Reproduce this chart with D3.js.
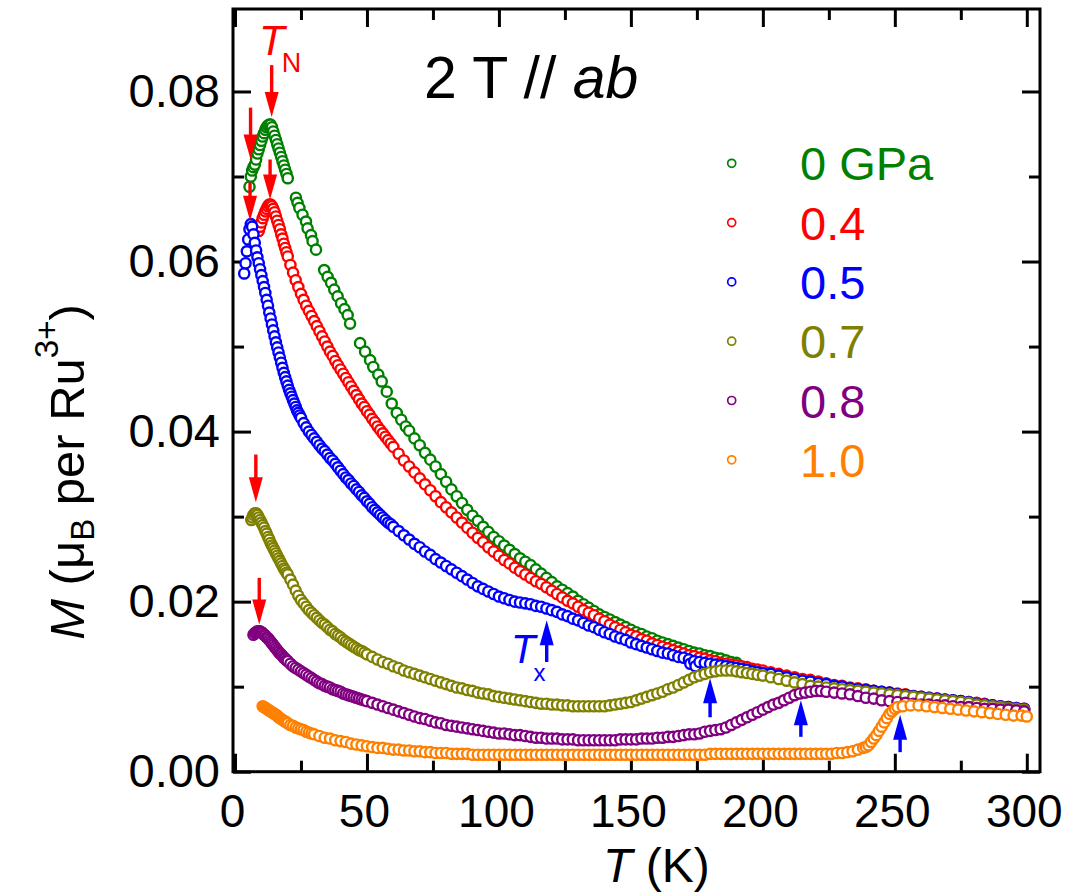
<!DOCTYPE html>
<html><head><meta charset="utf-8">
<script src="https://cdn.jsdelivr.net/npm/d3@7"></script>
<style>
body{margin:0;background:#fff}
svg{display:block}
text{font-family:"Liberation Sans",Arial,Helvetica,sans-serif}
</style>
</head><body>
<svg id="chart" width="1065" height="894"></svg>
<script>
// ---------------- data ----------------
const seriesLabels = ["0 GPa", "0.4", "0.5", "0.7", "0.8", "1.0"];
const seriesColors = ["#008000", "#ff0000", "#0000ff", "#808000", "#800080", "#ff8000"];

// [T (K), M (muB per Ru3+)]
const m00 = [[5.5,.0688],[6,.0700],[6.5,.0707],[7,.0711],[7.5,.0714],[8,.0720],[8.5,.0727],[9,.0732],[9.5,.0737],[10,.0742],[10.5,.0747],[11,.0751],[11.5,.0755],[12,.0758],[12.5,.0760],[13,.0761],[13.5,.0761],[14,.0758],[14.5,.0753],[15,.0748],[15.5,.0743],[16,.0738],[16.5,.0733],[17,.0728],[17.5,.0723],[18,.0718],[18.5,.0713],[19,.0708],[19.5,.0703],[20,.0698],
[23.1,.0675],[23.7,.0669],[24.4,.0663],[25.6,.0655],[26.9,.0647],[27.5,.0639],[28.8,.0631],[29.4,.0624],[30.7,.0614],
[33.8,.0590],[35.1,.0582],[36.4,.0575],[37.6,.0567],[38.9,.0559],[40.2,.0551],[41.5,.0544],[42.7,.0537],[43.6,.0527],
[47.4,.0504],[49.3,.0494],[51.2,.0484],[52.4,.0476],[54.3,.0467],[55.6,.0459],[57.5,.0447],
[59.4,.0433],[61.3,.0422],[63,.0414],[64.7,.0406],[66,.0401],[68,.0392],[70,.0384],[72,.0375],[74,.0367],[76,.0359],[78,.0350],[80,.0341],[82,.0332],[84,.0324],[86,.0316],[88,.0308],[90,.0301],[92,.0295],[94,.0288],[96,.0282],[98,.0276],[100,.0271],[102,.0266],[104,.0261],[106,.0256],[108,.0251],[110,.0247],[112,.0243],[114,.0238],[116,.0233],[118,.0228],[120,.0223],[122,.0218],[124,.0214],[126,.0210],[128,.0206],[130,.0201],[132,.0197],[134,.0193],[136,.0189],[138,.0185],[140,.0182],[142,.0179],[144,.0176],[146,.0173],[148,.0170],[150,.0167],[152,.0164],[154,.0162],[156,.0159],[158,.0157],[160,.0154],[162,.0152],[164,.0150],[166,.0148],[168,.0146],[170,.0144],[172,.0142],[174,.0140],[176,.0139],[178,.0137],[180,.0136],[182,.0134],[184,.0133],[186,.0131],[188,.0129],[190,.0128]];

const m04 = [[9,.0636],[9.5,.0641],[10,.0646],[10.5,.0651],[11,.0655],[11.5,.0659],[12,.0662],[12.5,.0665],[13,.0667],[13.5,.0667],[14,.0665],[14.5,.0662],[15,.0658],[15.5,.0653],[16,.0648],[16.5,.0643],[17,.0638],[17.5,.0632],[18,.0627],[18.5,.0621],[19,.0616],[19.5,.0611],[20,.0606],[21,.0596],[22,.0587],[23,.0578],[24,.0570],[25,.0562],[26,.0555],[27,.0548],[28,.0542],[29,.0536],[30,.0530],[31,.0524],[32,.0518],[33,.0512],[34,.0506],[35,.0500],[36,.0494],[37,.0489],[38,.0483],[39,.0478],[40,.0473],[41,.0468],[42,.0463],[43,.0458],[44,.0453],[45,.0448],[46,.0443],[47,.0438],[48,.0433],[49,.0429],[50,.0424],[51,.0420],[52,.0415],[53,.0411],[54,.0406],[55,.0402],[56,.0398],[57,.0394],[58,.0390],[59,.0386],[60,.0382],[62,.0374],[64,.0366],[66,.0359],[68,.0352],[70,.0345],[72,.0338],[74,.0331],[76,.0324],[78,.0317],[80,.0311],[82,.0305],[84,.0299],[86,.0293],[88,.0287],[90,.0281],[92,.0275],[94,.0270],[96,.0264],[98,.0259],[100,.0254],[102,.0249],[104,.0245],[106,.0240],[108,.0236],[110,.0232],[112,.0228],[114,.0224],[116,.0221],[118,.0217],[120,.0213],[122,.0209],[124,.0205],[126,.0201],[128,.0198],[130,.0194],[132,.0190],[134,.0187],[136,.0184],[138,.0180],[140,.0177],[142,.0173],[144,.0170],[146,.0167],[148,.0164],[150,.0161],[152,.0159],[154,.0156],[156,.0154],[158,.0151],[160,.0149],[162,.0147],[164,.0145],[166,.0143],[168,.0141],[170,.0139],[172,.0137],[174,.0136],[176,.0134],[178,.0133],[180,.0131],[182,.0130],[184,.0128],[186,.0127],[188,.0126],[190,.0125],[192,.0124],[194,.0123],[196,.0121],[198,.0120],[200,.0119],[203,.0117],[206,.0115],[209,.0113],[212,.0111],[215,.0109],[218,.0108],[221,.0106],[224,.0104],[227,.0102],[230,.0101],[233,.0099],[236,.0098],[239,.0097],[242,.0095],[245,.0094],[248,.0093],[251,.0092],[254,.0091],[257,.0089],[260,.0088],[263,.0087],[266,.0086],[269,.0085],[272,.0084],[275,.0083],[278,.0082],[281,.0081],[284,.0080],[287,.0078],[290,.0077],[293,.0076],[296,.0075],[299,.0074]];

const m05 = [[3.5,.0586],[4,.0598],[4.5,.0612],[5,.0626],[5.5,.0638],[6,.0644],[6.5,.0641],[7,.0632],[7.5,.0622],[8,.0613],[8.5,.0605],[9,.0598],[9.5,.0591],[10,.0584],[10.5,.0577],[11,.0570],[11.5,.0563],[12,.0555],[12.5,.0548],[13,.0540],[13.5,.0533],[14,.0526],[14.5,.0519],[15,.0512],[15.5,.0505],[16,.0499],[16.5,.0493],[17,.0487],[17.5,.0481],[18,.0475],[18.5,.0469],[19,.0464],[19.5,.0459],[20,.0454],[20.5,.0449],[21,.0445],[21.5,.0441],[22,.0437],[22.5,.0433],[23,.0429],[23.5,.0425],[24,.0422],[24.5,.0419],[25,.0416],[26,.0410],[27,.0405],[28,.0400],[29,.0396],[30,.0392],[31,.0388],[32,.0384],[33,.0380],[34,.0377],[35,.0373],[36,.0369],[37,.0366],[38,.0362],[39,.0358],[40,.0354],[41,.0350],[42,.0346],[43,.0343],[44,.0339],[45,.0336],[46,.0332],[47,.0329],[48,.0325],[49,.0322],[50,.0318],[51,.0315],[52,.0311],[53,.0308],[54,.0305],[55,.0302],[56,.0299],[57,.0296],[58,.0293],[59,.0291],[60,.0288],[62,.0283],[64,.0278],[66,.0273],[68,.0268],[70,.0264],[72,.0259],[74,.0255],[76,.0250],[78,.0246],[80,.0242],[82,.0238],[84,.0234],[86,.0230],[88,.0226],[90,.0222],[92,.0218],[94,.0215],[96,.0212],[98,.0209],[100,.0206],[102,.0204],[104,.0202],[106,.0200],[108,.0199],[110,.0198],[112,.0197],[114,.0195],[116,.0194],[118,.0192],[120,.0190],[122,.0188],[124,.0185],[126,.0183],[128,.0180],[130,.0178],[132,.0175],[134,.0172],[136,.0170],[138,.0167],[140,.0164],[142,.0162],[144,.0159],[146,.0157],[148,.0155],[150,.0152],[152,.0150],[154,.0148],[156,.0146],[158,.0144],[160,.0142],[162,.0140],[164,.0139],[166,.0137],[168,.0135],[170,.0134],[172,.0132],[172.5,.0127],[174,.0130],[174.5,.0124],[176,.0129],[178,.0128],[180,.0127],[182,.0126],[184,.0125],[186,.0124],[188,.0123],[190,.0122],[192,.0121],[194,.0120],[196,.0118],[198,.0117],[200,.0116],[203,.0115],[206,.0113],[209,.0111],[212,.0109],[215,.0107],[218,.0106],[221,.0104],[224,.0103],[227,.0101],[230,.0100],[233,.0098],[236,.0097],[239,.0096],[242,.0095],[245,.0094],[248,.0093],[251,.0091],[254,.0090],[257,.0089],[260,.0088],[263,.0087],[266,.0086],[269,.0085],[272,.0084],[275,.0083],[278,.0082],[281,.0080],[284,.0079],[287,.0078],[290,.0077],[293,.0076],[296,.0075],[299,.0074]];

const m07 = [[6.2,.0296],[6.6,.0299],[7,.0302],[7.5,.0304],[8,.0304],[8.5,.0302],[9,.0299],[9.5,.0296],[10,.0293],[10.5,.0290],[11,.0287],[11.5,.0283],[12,.0280],[12.5,.0276],[13,.0273],[13.5,.0269],[14,.0266],[14.5,.0263],[15,.0260],[15.5,.0257],[16,.0254],[16.5,.0251],[17,.0248],[17.5,.0245],[18,.0242],[18.5,.0239],[19,.0237],[19.5,.0234],[20,.0232],[21,.0226],[22,.0220],[23,.0213],[24,.0207],[25,.0202],[26,.0198],[27,.0194],[28,.0190],[29,.0187],[30,.0184],[31,.0181],[32,.0178],[33,.0175],[34,.0173],[35,.0170],[36,.0167],[37,.0165],[38,.0162],[39,.0160],[40,.0158],[41,.0155],[42,.0153],[43,.0151],[44,.0149],[45,.0147],[46,.0145],[47,.0143],[48,.0142],[49,.0140],[50,.0138],[52,.0135],[54,.0132],[56,.0129],[58,.0127],[60,.0124],[62,.0122],[64,.0119],[66,.0117],[68,.0115],[70,.0113],[72,.0111],[74,.0109],[76,.0107],[78,.0105],[80,.0103],[82,.0101],[84,.0099],[86,.0098],[88,.0096],[90,.0095],[92,.0093],[94,.0092],[96,.0091],[98,.0089],[100,.0088],[102,.0087],[104,.0086],[106,.0085],[108,.0084],[110,.0083],[112,.0082],[114,.0081],[116,.0080],[118,.0080],[120,.0079],[122,.0079],[124,.0078],[126,.0078],[128,.0077],[130,.0077],[132,.0077],[134,.0077],[136,.0077],[138,.0077],[140,.0077],[142,.0078],[144,.0079],[146,.0080],[148,.0081],[150,.0082],[152,.0084],[154,.0086],[156,.0088],[158,.0090],[160,.0092],[162,.0094],[164,.0097],[166,.0099],[168,.0102],[170,.0105],[172,.0108],[174,.0111],[176,.0113],[178,.0115],[180,.0117],[182,.0118],[184,.0119],[186,.0119],[188,.0119],[190,.0118],[192,.0117],[194,.0116],[196,.0115],[198,.0114],[200,.0113],[203,.0111],[206,.0109],[209,.0107],[212,.0105],[215,.0103],[218,.0101],[221,.0100],[224,.0099],[227,.0098],[230,.0097],[233,.0096],[236,.0095],[239,.0094],[242,.0093],[245,.0092],[248,.0091],[251,.0090],[254,.0089],[257,.0088],[260,.0087],[263,.0086],[266,.0085],[269,.0084],[272,.0083],[275,.0082],[278,.0081],[281,.0079],[284,.0078],[287,.0077],[290,.0076],[293,.0075],[296,.0074],[299,.0073]];

const m08 = [[7,.0161],[7.5,.0163],[8,.0164],[8.5,.0165],[9,.0165],[9.5,.0165],[10,.0164],[10.5,.0163],[11,.0161],[11.5,.0160],[12,.0158],[12.5,.0157],[13,.0155],[13.5,.0153],[14,.0151],[14.5,.0149],[15,.0147],[15.5,.0145],[16,.0143],[16.5,.0141],[17,.0139],[17.5,.0138],[18,.0136],[18.5,.0134],[19,.0133],[19.5,.0131],[20,.0130],[21,.0127],[22,.0124],[23,.0122],[24,.0120],[25,.0118],[26,.0116],[27,.0114],[28,.0112],[29,.0110],[30,.0108],[31,.0106],[32,.0104],[33,.0103],[34,.0101],[35,.0100],[36,.0099],[37,.0097],[38,.0096],[39,.0095],[40,.0094],[41,.0092],[42,.0091],[43,.0090],[44,.0089],[45,.0088],[46,.0087],[47,.0086],[48,.0085],[49,.0084],[50,.0083],[52,.0081],[54,.0079],[56,.0077],[58,.0075],[60,.0073],[62,.0071],[64,.0069],[66,.0067],[68,.0065],[70,.0063],[72,.0062],[74,.0060],[76,.0058],[78,.0057],[80,.0055],[82,.0054],[84,.0053],[86,.0052],[88,.0051],[90,.0050],[92,.0049],[94,.0048],[96,.0047],[98,.0046],[100,.0045],[102,.0045],[104,.0044],[106,.0043],[108,.0043],[110,.0042],[112,.0041],[114,.0040],[116,.0040],[118,.0039],[120,.0039],[122,.0039],[124,.0038],[126,.0038],[128,.0038],[130,.0037],[132,.0037],[134,.0037],[136,.0037],[138,.0037],[140,.0037],[142,.0037],[144,.0037],[146,.0038],[148,.0038],[150,.0038],[152,.0038],[154,.0039],[156,.0039],[158,.0039],[160,.0040],[162,.0040],[164,.0041],[166,.0041],[168,.0042],[170,.0043],[172,.0044],[174,.0044],[176,.0045],[178,.0047],[180,.0048],[182,.0049],[184,.0050],[186,.0052],[188,.0055],[190,.0058],[192,.0061],[194,.0064],[196,.0067],[198,.0070],[200,.0073],[202,.0076],[204,.0079],[206,.0081],[208,.0084],[210,.0087],[212,.0090],[214,.0092],[216,.0093],[218,.0094],[220,.0095],[222,.0095],[224,.0094],[227,.0093],[230,.0092],[233,.0091],[236,.0089],[239,.0087],[242,.0086],[245,.0084],[248,.0083],[251,.0082],[254,.0081],[257,.0080],[260,.0079],[263,.0079],[266,.0078],[269,.0078],[272,.0077],[275,.0076],[278,.0076],[281,.0075],[284,.0074],[287,.0074],[290,.0073],[293,.0073],[296,.0072],[299,.0071]];

const m10 = [[10.5,.0077],[11,.0076],[11.5,.0075],[12,.0074],[12.5,.0073],[13,.0072],[13.5,.0071],[14,.0070],[14.5,.0069],[15,.0068],[15.5,.0067],[16,.0066],[16.5,.0064],[17,.0063],[17.5,.0062],[18,.0061],[18.5,.0060],[19,.0059],[19.5,.0058],[20,.0057],[21,.0055],[22,.0054],[23,.0052],[24,.0051],[25,.0050],[26,.0049],[27,.0047],[28,.0046],[29,.0045],[30,.0044],[32,.0042],[34,.0040],[36,.0039],[38,.0037],[40,.0036],[42,.0035],[44,.0033],[46,.0032],[48,.0031],[50,.0030],[52,.0029],[54,.0028],[56,.0028],[58,.0027],[60,.0026],[62,.0026],[64,.0025],[66,.0025],[68,.0024],[70,.0024],[72,.0023],[74,.0023],[76,.0022],[78,.0022],[80,.0022],[82,.0021],[84,.0021],[86,.0021],[88,.0021],[90,.0020],[92,.0020],[94,.0020],[96,.0020],[98,.0020],[100,.0020],[102,.0020],[104,.0020],[106,.0020],[108,.0020],[110,.0020],[112,.0020],[114,.0020],[116,.0020],[118,.0020],[120,.0020],[122,.0020],[124,.0020],[126,.0020],[128,.0020],[130,.0020],[132,.0020],[134,.0020],[136,.0020],[138,.0020],[140,.0020],[142,.0020],[144,.0020],[146,.0020],[148,.0020],[150,.0020],[152,.0020],[154,.0020],[156,.0020],[158,.0020],[160,.0020],[162,.0020],[164,.0020],[166,.0020],[168,.0020],[170,.0020],[172,.0020],[174,.0020],[176,.0020],[178,.0020],[180,.0021],[182,.0021],[184,.0021],[186,.0021],[188,.0021],[190,.0021],[192,.0021],[194,.0021],[196,.0021],[198,.0021],[200,.0021],[202,.0021],[204,.0021],[206,.0021],[208,.0021],[210,.0021],[212,.0021],[214,.0021],[216,.0021],[218,.0021],[220,.0021],[222,.0021],[224,.0021],[226,.0021],[228,.0022],[230,.0022],[232,.0023],[234,.0024],[236,.0026],[238,.0028],[239,.0029],[240,.0031],[241,.0035],[242,.0039],[243,.0043],[244,.0048],[245,.0053],[246,.0058],[247,.0063],[248,.0068],[249,.0071],[250,.0074],[251,.0076],[253,.0077],[256,.0078],[259,.0078],[262,.0077],[265,.0076],[268,.0075],[271,.0074],[274,.0073],[277,.0072],[280,.0071],[283,.0070],[286,.0069],[289,.0068],[292,.0067],[295,.0066],[298,.0066],[300,.0065]];

const seriesData = [m00, m04, m05, m07, m08, m10];

const xMajorTicks = [0, 50, 100, 150, 200, 250, 300];
const xMinorTicks = [25, 75, 125, 175, 225, 275];
const yMajorTicks = [0, 0.02, 0.04, 0.06, 0.08];
const yMinorTicks = [0.01, 0.03, 0.05, 0.07];

// T_N arrows (red, pointing down): [T, M tail, M tip]
const tnArrows = [[13.9,.0831,.0770],[5.9,.0781,.0720],[13.3,.0720,.0673],[5.7,.0693,.0648],[7.9,.0373,.0317],[9.2,.0228,.0173]];
// T_x arrows (blue, pointing up): [T, M tail, M tip]
const txArrows = [[118.1,.0129,.0178],[180,.0064,.0110],[214.4,.0041,.0084],[252,.0023,.0067]];

// ---------------- drawing ----------------
const svg = d3.select("#chart");
const x = d3.scaleLinear().domain([-0.75, 305]).range([233, 1040]);
const y = d3.scaleLinear().domain([0, 0.0897]).range([771.7, 9]);
const [x0, x1] = x.range();
const [y0, y1] = y.range();
const FS = 47;

function ticks(gen, pos, vals, size, labels, pad) {
  const g = svg.append("g").attr("transform", pos)
    .call(gen.tickValues(vals).tickSize(size).tickSizeOuter(0).tickPadding(pad)
      .tickFormat(labels || (() => "")));
  g.select(".domain").remove();
  g.selectAll(".tick line").attr("stroke", "#000").attr("stroke-width", 3);
  g.selectAll(".tick text").attr("fill", "#000").attr("font-size", FS)
    .attr("font-family", '"Liberation Sans", Arial, sans-serif');
  return g;
}
const gxb = ticks(d3.axisBottom(x), `translate(0,${y0})`, xMajorTicks, -18, d3.format("d"), 23);
gxb.selectAll(".tick text").attr("font-size", 46).attr("dx", -3);
ticks(d3.axisBottom(x), `translate(0,${y0})`, xMinorTicks, -11, null, 0);
ticks(d3.axisTop(x), `translate(0,${y1})`, xMajorTicks, -18, null, 0);
ticks(d3.axisTop(x), `translate(0,${y1})`, xMinorTicks, -11, null, 0);
ticks(d3.axisLeft(y), `translate(${x0},0)`, yMajorTicks, -18, d3.format(".2f"), 13);
ticks(d3.axisLeft(y), `translate(${x0},0)`, yMinorTicks, -11, null, 0);
ticks(d3.axisRight(y), `translate(${x1},0)`, yMajorTicks, -18, null, 0);
ticks(d3.axisRight(y), `translate(${x1},0)`, yMinorTicks, -11, null, 0);

// data points
svg.append("clipPath").attr("id", "plotclip").append("rect")
  .attr("x", x0).attr("y", y1).attr("width", x1 - x0).attr("height", y0 - y1);
const pts = svg.append("g").attr("clip-path", "url(#plotclip)");
seriesData.forEach((data, i) => {
  pts.append("g").selectAll("circle").data(data).join("circle")
    .attr("cx", d => x(d[0])).attr("cy", d => y(d[1])).attr("r", 5.1)
    .attr("fill", "#fff").attr("stroke", seriesColors[i]).attr("stroke-width", 2.4);
});

// frame
svg.append("rect").attr("x", x0).attr("y", y1).attr("width", x1 - x0).attr("height", y0 - y1)
  .attr("fill", "none").attr("stroke", "#000").attr("stroke-width", 3);

// arrows
function arrow(T, mTail, mTip, color) {
  const ax = x(T), yt = y(mTail), yp = y(mTip);
  const dir = Math.sign(yp - yt); // +1 => pointing down
  const head = 25, hw = 7;
  svg.append("line").attr("x1", ax).attr("x2", ax).attr("y1", yt).attr("y2", yp - dir * (head - 3))
    .attr("stroke", color).attr("stroke-width", 3.4);
  svg.append("path")
    .attr("d", `M${ax},${yp} L${ax - hw},${yp - dir * head} L${ax + hw},${yp - dir * head} Z`)
    .attr("fill", color);
}
tnArrows.forEach(a => arrow(a[0], a[1], a[2], "#ff0000"));
txArrows.forEach(a => arrow(a[0], a[1], a[2], "#0000ff"));

// T_N label
const tn = svg.append("text").attr("x", 259).attr("y", 55).attr("fill", "#ff0000").attr("font-size", 42);
tn.append("tspan").attr("font-style", "italic").text("T");
tn.append("tspan").attr("font-size", 27).attr("dx", -3).attr("dy", 17).text("N");

// T_x label
const tx = svg.append("text").attr("x", 511).attr("y", 663).attr("fill", "#0000ff").attr("font-size", 40);
tx.append("tspan").attr("font-style", "italic").text("T");
tx.append("tspan").attr("font-size", 24).attr("dx", -2).attr("dy", 18).text("x");

// field label
const ttl = svg.append("text").attr("x", 424).attr("y", 98).attr("fill", "#000").attr("font-size", 59);
ttl.append("tspan").text("2 T // ");
ttl.append("tspan").attr("font-style", "italic").text("ab");

// legend
seriesLabels.forEach((lab, i) => {
  const cy = 163.3 + i * 59.3;
  svg.append("circle").attr("cx", 731.7).attr("cy", cy).attr("r", 4)
    .attr("fill", "#fff").attr("stroke", seriesColors[i]).attr("stroke-width", 1.7);
  svg.append("text").attr("x", 800).attr("y", cy + 17).attr("fill", seriesColors[i])
    .attr("font-size", FS).text(lab);
});

// x axis title
const xt = svg.append("text").attr("x", 603).attr("y", 882).attr("fill", "#000").attr("font-size", 48);
xt.append("tspan").attr("font-style", "italic").text("T");
xt.append("tspan").text(" (K)");

// y axis title
const yt = svg.append("text").attr("transform", "translate(84,472) rotate(-90)")
  .attr("text-anchor", "middle").attr("fill", "#000").attr("font-size", 49);
yt.append("tspan").attr("font-style", "italic").text("M");
yt.append("tspan").text(" (\u03bc");
yt.append("tspan").attr("font-size", 33).attr("dy", 10).text("B");
yt.append("tspan").attr("dy", -10).text(" per Ru");
yt.append("tspan").attr("font-size", 33).attr("dy", -26).text("3+");
yt.append("tspan").attr("dy", 26).text(")");
</script>
</body></html>
